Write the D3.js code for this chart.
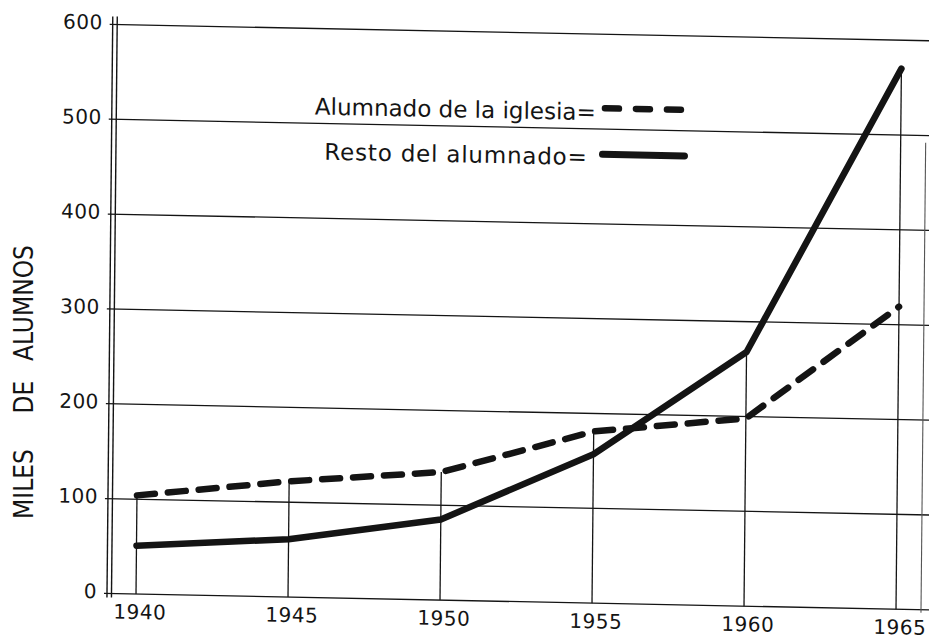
<!DOCTYPE html>
<html>
<head>
<meta charset="utf-8">
<script src="https://cdn.jsdelivr.net/npm/d3@7/dist/d3.min.js"></script>
<style>
  body { margin: 0; background: #fff; }
  svg { display: block; }
  text { fill: #141414; font-family: 'DejaVu Sans', sans-serif; }
</style>
</head>
<body>
<div id="chart"></div>
<script>
// values (miles de alumnos)
var years = [ 1940, 1945, 1950, 1955, 1960, 1965 ];
var yTicks = [ 0, 100, 200, 300, 400, 500, 600 ];
var alumnadoIglesia = [ 104, 122, 135, 181, 198, 319 ];
var restoAlumnado = [ 51, 61, 85, 157, 268, 570 ];
var legendLabels = [ 'Alumnado de la iglesia=', 'Resto del alumnado=' ];
var yTitleWords = [ 'MILES', 'DE', 'ALUMNOS' ];

var width = 929,
    height = 640,
    ink = '#141414',
    origin = { x: 136, y: 594 },

    x = d3.scaleLinear().domain( [ 1940, 1965 ] ).range( [ 136, 896 ] ),
    y = d3.scaleLinear().domain( [ 0, 600 ] ).range( [ 594, 25 ] ),

    svg = d3.select( '#chart' ).append( 'svg' )
            .attr( 'width', width )
            .attr( 'height', height ),

    // the scan is slightly skewed, so everything on the paper sits in one sheared group
    paper = svg.append( 'g' )
              .attr( 'transform',
                'translate(' + origin.x + ',' + origin.y + ') ' +
                'matrix(1,0.02,-0.01,1,0,0) ' +
                'translate(' + ( -origin.x ) + ',' + ( -origin.y ) + ')' );

// horizontal grid
paper.append( 'g' )
  .selectAll( 'line' )
  .data( yTicks )
  .enter().append( 'line' )
  .attr( 'x1', 104 )
  .attr( 'x2', 945 )
  .attr( 'y1', function( d ) { return y( d ); } )
  .attr( 'y2', function( d ) { return y( d ); } )
  .attr( 'stroke', ink )
  .attr( 'stroke-width', 1.3 );

// double left axis
paper.append( 'g' )
  .selectAll( 'line' )
  .data( [ 107, 111.5 ] )
  .enter().append( 'line' )
  .attr( 'x1', function( d ) { return d; } )
  .attr( 'x2', function( d ) { return d; } )
  .attr( 'y1', 17 )
  .attr( 'y2', y( 0 ) + 4 )
  .attr( 'stroke', ink )
  .attr( 'stroke-width', 1.4 );

// faint right border
paper.append( 'line' )
  .attr( 'x1', 921 )
  .attr( 'x2', 921 )
  .attr( 'y1', 127 )
  .attr( 'y2', y( 0 ) + 3 )
  .attr( 'stroke', '#555' )
  .attr( 'stroke-width', 1.1 );

// year verticals, up to the higher of the two series
paper.append( 'g' )
  .selectAll( 'line' )
  .data( years )
  .enter().append( 'line' )
  .attr( 'x1', function( d ) { return x( d ); } )
  .attr( 'x2', function( d ) { return x( d ); } )
  .attr( 'y1', y( 0 ) )
  .attr( 'y2', function( d, i ) {
    return y( Math.max( alumnadoIglesia[ i ], restoAlumnado[ i ] ) );
  } )
  .attr( 'stroke', ink )
  .attr( 'stroke-width', 1.3 );

// y tick labels
paper.append( 'g' )
  .selectAll( 'text' )
  .data( yTicks )
  .enter().append( 'text' )
  .attr( 'x', 97 )
  .attr( 'y', function( d ) { return y( d ) + 5; } )
  .attr( 'text-anchor', 'end' )
  .attr( 'font-size', 20 )
  .attr( 'letter-spacing', 0.5 )
  .text( function( d ) { return d; } );

// x tick labels (kept a little higher so the last ones stay inside the frame)
paper.append( 'g' )
  .selectAll( 'text' )
  .data( years )
  .enter().append( 'text' )
  .attr( 'x', function( d ) { return x( d ) + 4; } )
  .attr( 'y', y( 0 ) + 25 )
  .attr( 'text-anchor', 'middle' )
  .attr( 'font-size', 20 )
  .attr( 'letter-spacing', 0.5 )
  .text( function( d ) { return d; } );

var line = d3.line()
  .x( function( d, i ) { return x( years[ i ] ); } )
  .y( function( d ) { return y( d ); } );

paper.append( 'path' )
  .datum( restoAlumnado )
  .attr( 'd', line )
  .attr( 'fill', 'none' )
  .attr( 'stroke', ink )
  .attr( 'stroke-width', 6.5 )
  .attr( 'stroke-linejoin', 'round' )
  .attr( 'stroke-linecap', 'round' );

paper.append( 'path' )
  .datum( alumnadoIglesia )
  .attr( 'd', line )
  .attr( 'fill', 'none' )
  .attr( 'stroke', ink )
  .attr( 'stroke-width', 6.5 )
  .attr( 'stroke-dasharray', '18 13' )
  .attr( 'stroke-linejoin', 'round' )
  .attr( 'stroke-linecap', 'round' );

// legend
var legend = paper.append( 'g' );

legend.append( 'text' )
  .attr( 'x', 310 )
  .attr( 'y', 111 )
  .attr( 'font-size', 23 )
  .text( legendLabels[ 0 ] );

legend.append( 'line' )
  .attr( 'x1', 600 )
  .attr( 'x2', 680 )
  .attr( 'y1', 99 )
  .attr( 'y2', 99 )
  .attr( 'stroke', ink )
  .attr( 'stroke-width', 6.5 )
  .attr( 'stroke-dasharray', '14 17' )
  .attr( 'stroke-linecap', 'round' );

legend.append( 'text' )
  .attr( 'x', 320 )
  .attr( 'y', 156 )
  .attr( 'font-size', 23 )
  .attr( 'letter-spacing', 0.8 )
  .text( legendLabels[ 1 ] );

legend.append( 'line' )
  .attr( 'x1', 598 )
  .attr( 'x2', 680 )
  .attr( 'y1', 145 )
  .attr( 'y2', 145 )
  .attr( 'stroke', ink )
  .attr( 'stroke-width', 7 )
  .attr( 'stroke-linecap', 'round' );

// vertical axis title, one word at a time as in the lettering
var titleCenters = [ 484, 397, 303 ];

svg.append( 'g' )
  .selectAll( 'text' )
  .data( yTitleWords )
  .enter().append( 'text' )
  .attr( 'transform', function( d, i ) {
    return 'translate(33,' + titleCenters[ i ] + ') rotate(-90)';
  } )
  .attr( 'text-anchor', 'middle' )
  .attr( 'font-size', 26 )
  .style( 'font-family', "'DejaVu Sans Condensed', 'DejaVu Sans', sans-serif" )
  .style( 'font-stretch', 'condensed' )
  .text( function( d ) { return d; } );
</script>
</body>
</html>
